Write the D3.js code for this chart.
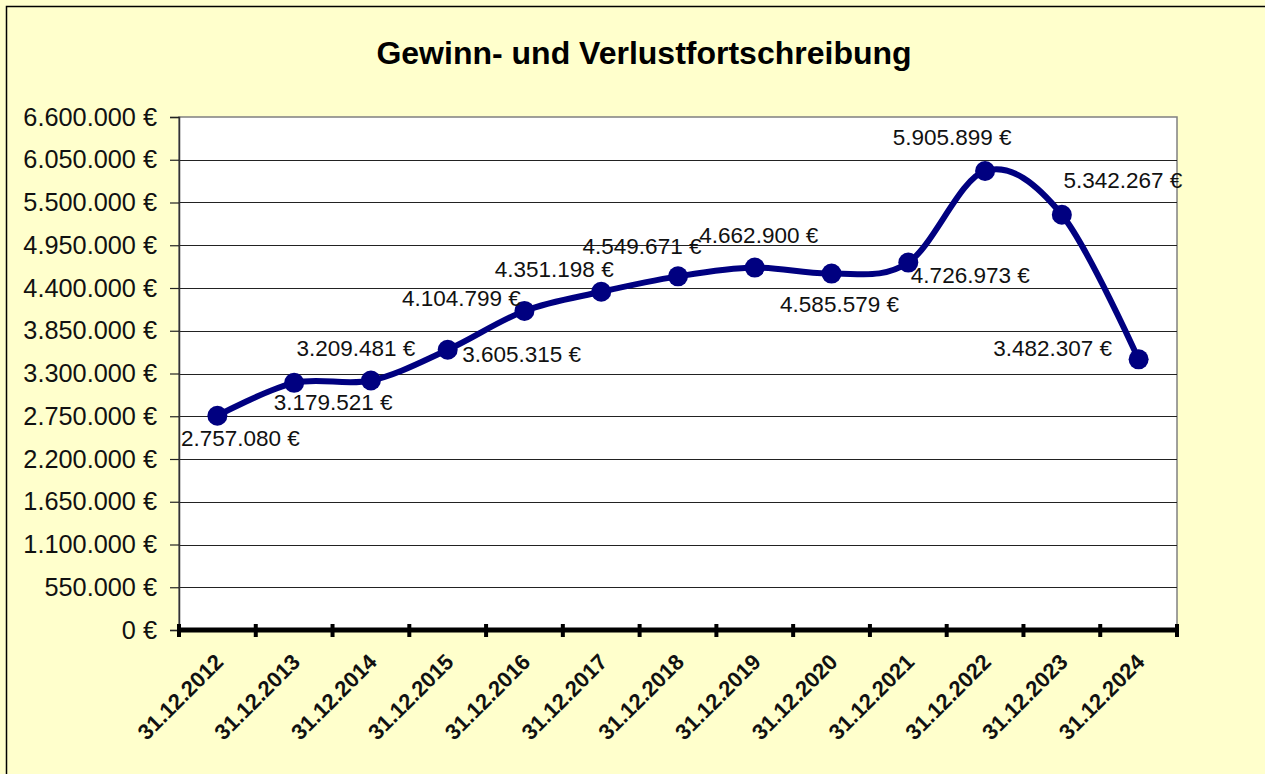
<!DOCTYPE html>
<html>
<head>
<meta charset="utf-8">
<script src="https://cdn.jsdelivr.net/npm/d3@7"></script>
<style>
  html, body { margin: 0; padding: 0; background: #FFFFCC; overflow: hidden; }
  svg { display: block; font-family: Arial, "Liberation Sans", sans-serif; }
</style>
</head>
<body>
<svg id="chart"></svg>
<script>
var dates = ["31.12.2012", "31.12.2013", "31.12.2014", "31.12.2015", "31.12.2016", "31.12.2017",
             "31.12.2018", "31.12.2019", "31.12.2020", "31.12.2021", "31.12.2022", "31.12.2023", "31.12.2024"];
var values = [2757080, 3179521, 3209481, 3605315, 4104799, 4351198,
              4549671, 4662900, 4585579, 4726973, 5905899, 5342267, 3482307];
var yTicks = [0, 550000, 1100000, 1650000, 2200000, 2750000, 3300000, 3850000,
              4400000, 4950000, 5500000, 6050000, 6600000];
// where each data label sits relative to its point (px)
var labelDx = [23, 39, -15, 74, -63, -47, -36, 4, 8, 62, -33, 61, -86];
var labelDy = [23, 20, -32, 5, -12, -22, -30, -32, 31, 13, -33, -34, -11];

var width = 1265, height = 774;
var margin = { top: 117, right: 88, bottom: 144, left: 179 };
var plotW = width - margin.left - margin.right;
var plotH = height - margin.top - margin.bottom;

var fmt = d3.formatLocale({ decimal: ",", thousands: ".", grouping: [3], currency: ["", " €"] }).format(",.0f");
function euro(v) { return fmt(v) + " €"; }

var svg = d3.select("#chart")
    .attr("width", width)
    .attr("height", height);

// outer chart frame (only left/top visible)
svg.append("rect")
    .attr("x", 6.5).attr("y", 6.5)
    .attr("width", width + 20).attr("height", height + 20)
    .attr("fill", "#FFFFCC")
    .attr("stroke", "#000")
    .attr("stroke-width", 1.5);

svg.append("text")
    .attr("x", 644)
    .attr("y", 53)
    .attr("text-anchor", "middle")
    .attr("dominant-baseline", "central")
    .style("font-size", "32px")
    .style("font-weight", "bold")
    .text("Gewinn- und Verlustfortschreibung");

var chart = svg.append("g")
    .attr("transform", "translate(" + margin.left + "," + margin.top + ")");

var x = d3.scaleBand()
    .domain(dates)
    .range([0, plotW]);

var y = d3.scaleLinear()
    .domain([0, 6600000])
    .range([plotH, 0]);

chart.append("rect")
    .attr("width", plotW)
    .attr("height", plotH)
    .attr("fill", "#fff")
    .attr("stroke", "#808080")
    .attr("stroke-width", 1.5);

// gridlines
chart.append("g")
    .selectAll("line")
    .data(yTicks.slice(1, -1))
    .enter().append("line")
    .attr("x1", 0).attr("x2", plotW)
    .attr("y1", function (d) { return Math.round(y(d)) + 0.5; })
    .attr("y2", function (d) { return Math.round(y(d)) + 0.5; })
    .attr("stroke", "#222")
    .attr("stroke-width", 1.2);

// y axis
var yAxis = d3.axisLeft(y)
    .tickValues(yTicks)
    .tickSize(9)
    .tickPadding(13)
    .tickFormat(euro);

var gy = chart.append("g").call(yAxis);
gy.select(".domain").attr("stroke", "#333").attr("stroke-width", 1.5);
gy.selectAll(".tick line").attr("stroke", "#222").attr("stroke-width", 1.2);
gy.selectAll(".tick text")
    .style("font-size", "25.3px")
    .attr("fill", "#111");

// x axis (thick, ticks at category boundaries)
var boundaries = d3.range(dates.length + 1).map(function (i) { return i * x.step(); });
chart.append("line")
    .attr("x1", 0).attr("x2", plotW)
    .attr("y1", plotH).attr("y2", plotH)
    .attr("stroke", "#000")
    .attr("stroke-width", 5);
chart.append("g")
    .selectAll("line")
    .data(boundaries)
    .enter().append("line")
    .attr("x1", function (d) { return d; })
    .attr("x2", function (d) { return d; })
    .attr("y1", plotH - 6).attr("y2", plotH + 7)
    .attr("stroke", "#000")
    .attr("stroke-width", 4);

chart.append("g")
    .selectAll("text")
    .data(dates)
    .enter().append("text")
    .attr("transform", function (d) {
        return "translate(" + (x(d) + x.bandwidth() / 2 + 2) + "," + (plotH + 28) + ") rotate(-45)";
    })
    .attr("text-anchor", "end")
    .attr("dominant-baseline", "central")
    .style("font-size", "22px")
    .style("font-weight", "bold")
    .attr("fill", "#111")
    .text(function (d) { return d; });

// line + markers
var pts = dates.map(function (d, i) { return [x(d) + x.bandwidth() / 2, y(values[i])]; });

var line = d3.line().curve(d3.curveCardinal.tension(0));

chart.append("path")
    .attr("d", line(pts))
    .attr("fill", "none")
    .attr("stroke", "#000080")
    .attr("stroke-width", 6)
    .attr("stroke-linejoin", "round");

chart.append("g")
    .selectAll("circle")
    .data(pts)
    .enter().append("circle")
    .attr("cx", function (d) { return d[0]; })
    .attr("cy", function (d) { return d[1]; })
    .attr("r", 10)
    .attr("fill", "#000080");

chart.append("g")
    .selectAll("text")
    .data(values)
    .enter().append("text")
    .attr("x", function (d, i) { return pts[i][0] + labelDx[i]; })
    .attr("y", function (d, i) { return pts[i][1] + labelDy[i]; })
    .attr("text-anchor", "middle")
    .attr("dominant-baseline", "central")
    .style("font-size", "22.5px")
    .attr("fill", "#111")
    .text(euro);
</script>
</body>
</html>
